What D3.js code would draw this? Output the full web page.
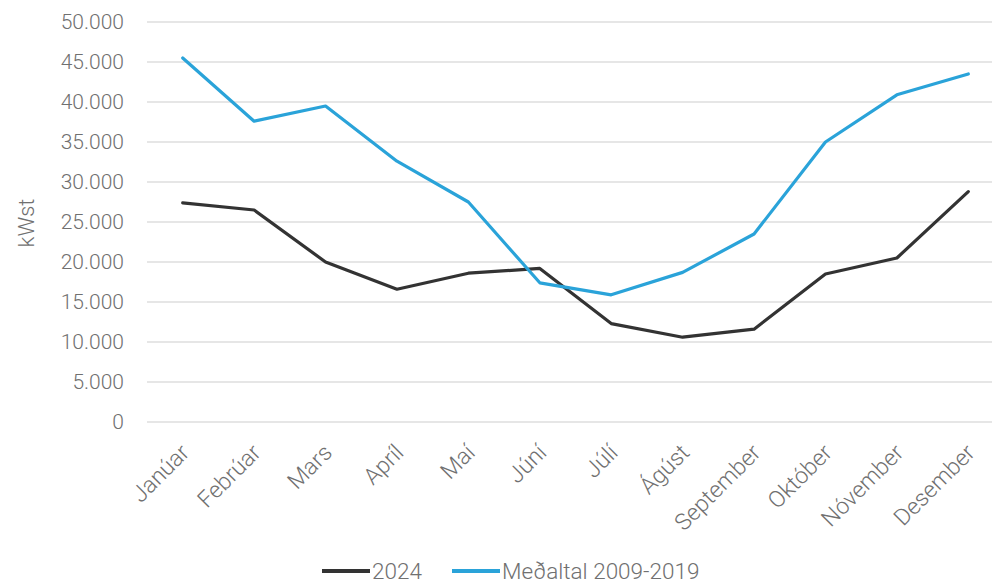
<!DOCTYPE html>
<html>
<head>
<meta charset="utf-8">
<script src="https://cdnjs.cloudflare.com/ajax/libs/d3/7.8.5/d3.min.js"></script>
<style>
  body { margin: 0; background: #fff; }
  svg { display: block; font-family: Roboto, "Open Sans", sans-serif; font-weight: 300; }
</style>
</head>
<body>
<div id="chart"></div>
<script>
const months = ["Janúar", "Febrúar", "Mars", "Apríl", "Maí", "Júní", "Júlí", "Ágúst", "September", "Október", "Nóvember", "Desember"];
const values2024 = [27400, 26500, 20000, 16600, 18600, 19200, 12300, 10600, 11600, 18500, 20500, 28800];
const valuesAvg = [45500, 37600, 39500, 32600, 27500, 17400, 15900, 18700, 23500, 35000, 40900, 43500];
const yTicks = [0, 5000, 10000, 15000, 20000, 25000, 30000, 35000, 40000, 45000, 50000];

const series = [
    { name: "2024", values: values2024, color: "#333333" },
    { name: "Meðaltal 2009-2019", values: valuesAvg, color: "#2aa3d9" }
];

const width = 992, height = 585;
const svg = d3.select("#chart").append("svg")
    .attr("width", width)
    .attr("height", height);

const x = d3.scaleBand()
    .domain(months)
    .range([147, 1004]);

const y = d3.scaleLinear()
    .domain([0, 50000])
    .range([422, 22]);

const fmt = d => d3.format(",")(d).replace(/,/g, ".");

// gridlines
svg.append("g")
    .selectAll("line")
    .data(yTicks)
    .enter().append("line")
    .attr("x1", 147)
    .attr("x2", width)
    .attr("y1", d => y(d))
    .attr("y2", d => y(d))
    .attr("stroke", "#dedede")
    .attr("stroke-width", 1.5);

// y axis
const yAxis = svg.append("g")
    .attr("transform", "translate(124,0)")
    .call(d3.axisLeft(y).tickValues(yTicks).tickFormat(fmt).tickSize(0).tickPadding(0));
yAxis.select(".domain").remove();
yAxis.selectAll("text")
    .attr("fill", "#707070")
    .attr("font-size", 21)
    .attr("font-family", "Roboto, sans-serif")
    .attr("font-weight", 300);

svg.append("text")
    .attr("transform", "translate(34,223) rotate(-90)")
    .attr("text-anchor", "middle")
    .attr("fill", "#707070")
    .attr("font-size", 22)
    .text("kWst");

// x axis
const xAxis = svg.append("g")
    .attr("transform", "translate(0,422)")
    .call(d3.axisBottom(x).tickSize(0).tickPadding(0));
xAxis.select(".domain").remove();
xAxis.selectAll("text")
    .attr("fill", "#707070")
    .attr("font-size", 23)
    .attr("font-family", "Roboto, sans-serif")
    .attr("font-weight", 300)
    .attr("text-anchor", "end")
    .attr("dy", 0)
    .attr("transform", "translate(8,32) rotate(-45)");

// lines
const line = d3.line()
    .x((d, i) => x(months[i]) + x.bandwidth() / 2)
    .y(d => y(d));

svg.append("g")
    .selectAll("path")
    .data(series)
    .enter().append("path")
    .attr("d", d => line(d.values))
    .attr("fill", "none")
    .attr("stroke", d => d.color)
    .attr("stroke-width", 3.2)
    .attr("stroke-linejoin", "round")
    .attr("stroke-linecap", "round");

// legend
const legendPos = [322, 452];
const legend = svg.append("g")
    .selectAll("g")
    .data(series)
    .enter().append("g")
    .attr("transform", (d, i) => `translate(${legendPos[i]},571)`);
legend.append("line")
    .attr("x1", 0).attr("x2", 48)
    .attr("stroke", d => d.color)
    .attr("stroke-width", 4);
legend.append("text")
    .attr("x", 50)
    .attr("dy", "0.35em")
    .attr("fill", "#707070")
    .attr("font-size", 22.5)
    .text(d => d.name);
</script>
</body>
</html>
